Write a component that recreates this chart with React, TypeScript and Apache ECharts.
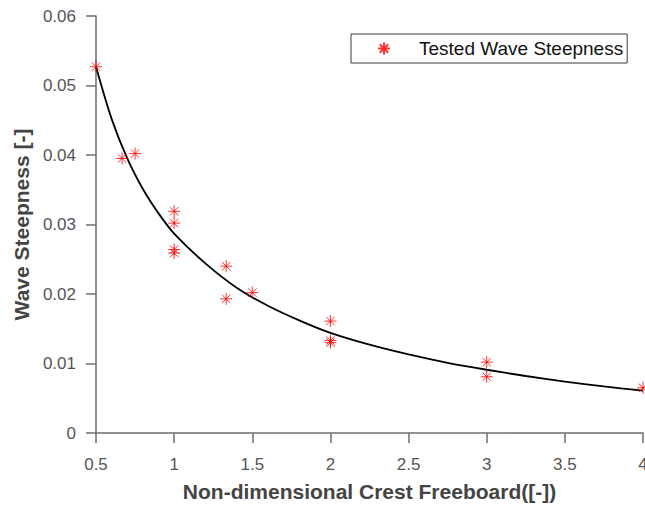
import React, { useEffect, useRef } from "react";
import * as echarts from "echarts";

// Tested wave steepness points: [crest freeboard, steepness]
const testedX = [0.5, 0.667, 0.75, 1, 1, 1, 1, 1.333, 1.333, 1.5, 2, 2, 2, 3, 3, 4];
const testedY = [0.0527, 0.0395, 0.0402, 0.0319, 0.0302, 0.0264, 0.0259, 0.024, 0.0193, 0.0202, 0.0161, 0.0133, 0.013, 0.0102, 0.0081, 0.0065];

// Fitted curve
const curveX = [0.5, 0.6, 0.7, 0.8, 0.9, 1.0, 1.2, 1.4, 1.6, 1.8, 2.0, 2.25, 2.5, 2.75, 3.0, 3.25, 3.5, 3.75, 4.0];
const curveY = [0.0527, 0.0452, 0.0395, 0.0351, 0.0316, 0.0287, 0.0244, 0.0209, 0.0183, 0.0162, 0.0144, 0.0127, 0.0113, 0.0101, 0.0091, 0.0082, 0.0074, 0.0067, 0.0061];

const xTicks = { min: 0.5, max: 4, interval: 0.5 };
const yTicks = { min: 0, max: 0.06, interval: 0.01 };

const STAR = "path://M0,6L12,6M6,0L6,12M1.8,1.8L10.2,10.2M1.8,10.2L10.2,1.8";
const FONT = "Liberation Sans, Arial, Helvetica, sans-serif";

export default function App() {
  const ref = useRef<HTMLDivElement>(null);
  useEffect(() => {
    if (!ref.current) return;
    const chart = echarts.init(ref.current, undefined, { renderer: "svg" });
    const axisColor = "#6e6e6e";
    chart.setOption({
      animation: false,
      backgroundColor: "#fff",
      textStyle: { fontFamily: FONT },
      grid: { left: 96, top: 16, right: 2, bottom: 75, containLabel: false, outerBoundsMode: "none" },
      legend: {
        data: ["Tested Wave Steepness"],
        left: 351,
        top: 34,
        padding: [5, 4, 5, 26],
        itemWidth: 12,
        itemHeight: 12,
        borderColor: "#3a3a3a",
        borderWidth: 1,
        backgroundColor: "#fff",
        borderRadius: 0,
        textStyle: { fontSize: 19, color: "#111", fontFamily: FONT, padding: [0, 0, 0, 24] },
      },
      xAxis: {
        type: "value",
        min: xTicks.min,
        max: xTicks.max,
        interval: xTicks.interval,
        name: "Non-dimensional Crest Freeboard([-])",
        nameLocation: "middle",
        nameGap: 48,
        nameTextStyle: { fontSize: 21, fontWeight: "bold", color: "#444", fontFamily: FONT },
        axisLine: { show: true, onZero: false, lineStyle: { color: axisColor, width: 1.5 } },
        axisTick: { show: true, inside: false, length: 10, lineStyle: { color: axisColor, width: 1.5 } },
        axisLabel: { fontSize: 17, color: "#555", margin: 23, fontFamily: FONT },
        splitLine: { show: false },
      },
      yAxis: {
        type: "value",
        min: yTicks.min,
        max: yTicks.max,
        interval: yTicks.interval,
        name: "Wave Steepness [-]",
        nameLocation: "middle",
        nameGap: 61,
        nameTextStyle: { fontSize: 21, fontWeight: "bold", color: "#444", fontFamily: FONT },
        axisLine: { show: true, onZero: false, lineStyle: { color: axisColor, width: 1.5 } },
        axisTick: { show: true, inside: false, length: 10, lineStyle: { color: axisColor, width: 1.5 } },
        axisLabel: {
          fontSize: 17,
          color: "#555",
          margin: 20,
          fontFamily: FONT,
          formatter: (v: number) => String(Number(v.toFixed(3))),
        },
        splitLine: { show: false },
      },
      series: [
        {
          name: "Fit",
          type: "line",
          data: curveX.map((x, i) => [x, curveY[i]]),
          smooth: 0.3,
          showSymbol: false,
          lineStyle: { color: "#000", width: 1.8 },
          z: 2,
        },
        {
          name: "Tested Wave Steepness",
          type: "scatter",
          data: testedX.map((x, i) => [x, testedY[i]]),
          symbol: STAR,
          symbolSize: 12,
          itemStyle: { color: "rgba(0,0,0,0)", borderColor: "#ff0000", borderWidth: 1 },
          z: 3,
        },
      ],
    });
    return () => chart.dispose();
  }, []);
  return (
    <div
      ref={ref}
      style={{ position: "fixed", left: 0, top: 0, width: 645, height: 508, background: "#fff" }}
    />
  );
}
